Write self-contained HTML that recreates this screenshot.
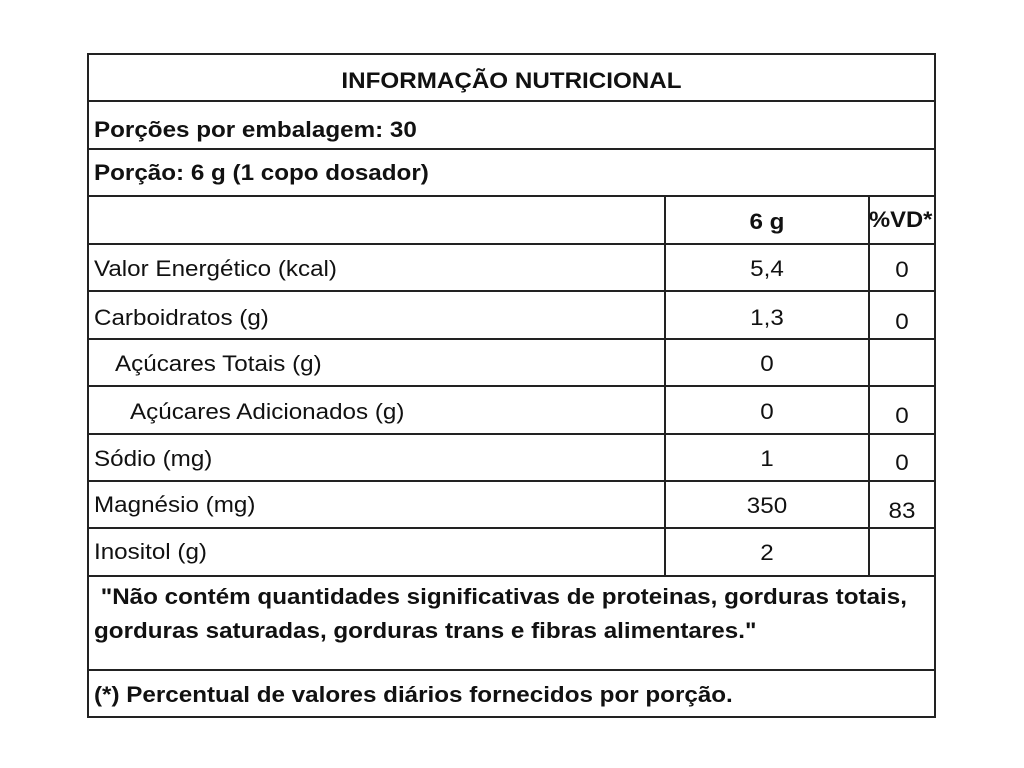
<!DOCTYPE html>
<html><head><meta charset="utf-8"><style>
body{margin:0;width:1024px;height:768px;background:#fff;position:relative;font-family:"Liberation Sans",Arial,sans-serif;color:#111;overflow:hidden}
.h{position:absolute;height:2px;background:#222}
.v{position:absolute;width:2px;background:#222}
.t{position:absolute;font-size:22px;white-space:nowrap;line-height:24px;transform:scaleX(1.1);transform-origin:left center}
.b{font-weight:bold}
.c{text-align:center;transform-origin:center center}
</style></head><body>
<div class="h" style="left:87px;width:849px;top:53px"></div>
<div class="h" style="left:87px;width:849px;top:100px"></div>
<div class="h" style="left:87px;width:849px;top:148px"></div>
<div class="h" style="left:87px;width:849px;top:195px"></div>
<div class="h" style="left:87px;width:849px;top:243px"></div>
<div class="h" style="left:87px;width:849px;top:290px"></div>
<div class="h" style="left:87px;width:849px;top:338px"></div>
<div class="h" style="left:87px;width:849px;top:385px"></div>
<div class="h" style="left:87px;width:849px;top:433px"></div>
<div class="h" style="left:87px;width:849px;top:480px"></div>
<div class="h" style="left:87px;width:849px;top:527px"></div>
<div class="h" style="left:87px;width:849px;top:575px"></div>
<div class="h" style="left:87px;width:849px;top:669px"></div>
<div class="h" style="left:87px;width:849px;top:716px"></div>
<div class="v" style="left:87px;top:53px;height:665px"></div>
<div class="v" style="left:934px;top:53px;height:665px"></div>
<div class="v" style="left:664px;top:195px;height:382px"></div>
<div class="v" style="left:868px;top:195px;height:382px"></div>

<div class="t b c" style="left:87px;width:849px;top:69px">INFORMAÇÃO NUTRICIONAL</div>
<div class="t b" style="left:94px;top:118px">Porções por embalagem: 30</div>
<div class="t b" style="left:94px;top:161px">Porção: 6 g (1 copo dosador)</div>
<div class="t b c" style="left:666px;width:202px;top:210px">6 g</div>
<div class="t b" style="left:869px;top:208px;transform:scaleX(1.08)">%VD*</div>

<div class="t" style="left:94px;top:257px">Valor Energético (kcal)</div>
<div class="t c" style="left:666px;width:202px;top:257px">5,4</div>
<div class="t c" style="left:870px;width:64px;top:258px">0</div>

<div class="t" style="left:94px;top:306px">Carboidratos (g)</div>
<div class="t c" style="left:666px;width:202px;top:306px">1,3</div>
<div class="t c" style="left:870px;width:64px;top:310px">0</div>

<div class="t" style="left:115px;top:352px">Açúcares Totais (g)</div>
<div class="t c" style="left:666px;width:202px;top:352px">0</div>

<div class="t" style="left:130px;top:400px">Açúcares Adicionados (g)</div>
<div class="t c" style="left:666px;width:202px;top:400px">0</div>
<div class="t c" style="left:870px;width:64px;top:404px">0</div>

<div class="t" style="left:94px;top:447px">Sódio (mg)</div>
<div class="t c" style="left:666px;width:202px;top:447px">1</div>
<div class="t c" style="left:870px;width:64px;top:451px">0</div>

<div class="t" style="left:94px;top:493px">Magnésio (mg)</div>
<div class="t c" style="left:666px;width:202px;top:494px">350</div>
<div class="t c" style="left:870px;width:64px;top:499px">83</div>

<div class="t" style="left:94px;top:540px">Inositol (g)</div>
<div class="t c" style="left:666px;width:202px;top:541px">2</div>

<div class="t b" style="left:94px;top:580px;line-height:34px"> &nbsp;"Não contém quantidades significativas de proteinas, gorduras totais,<br>gorduras saturadas, gorduras trans e fibras alimentares."</div>
<div class="t b" style="left:94px;top:683px">(*) Percentual de valores diários fornecidos por porção.</div>
</body></html>
